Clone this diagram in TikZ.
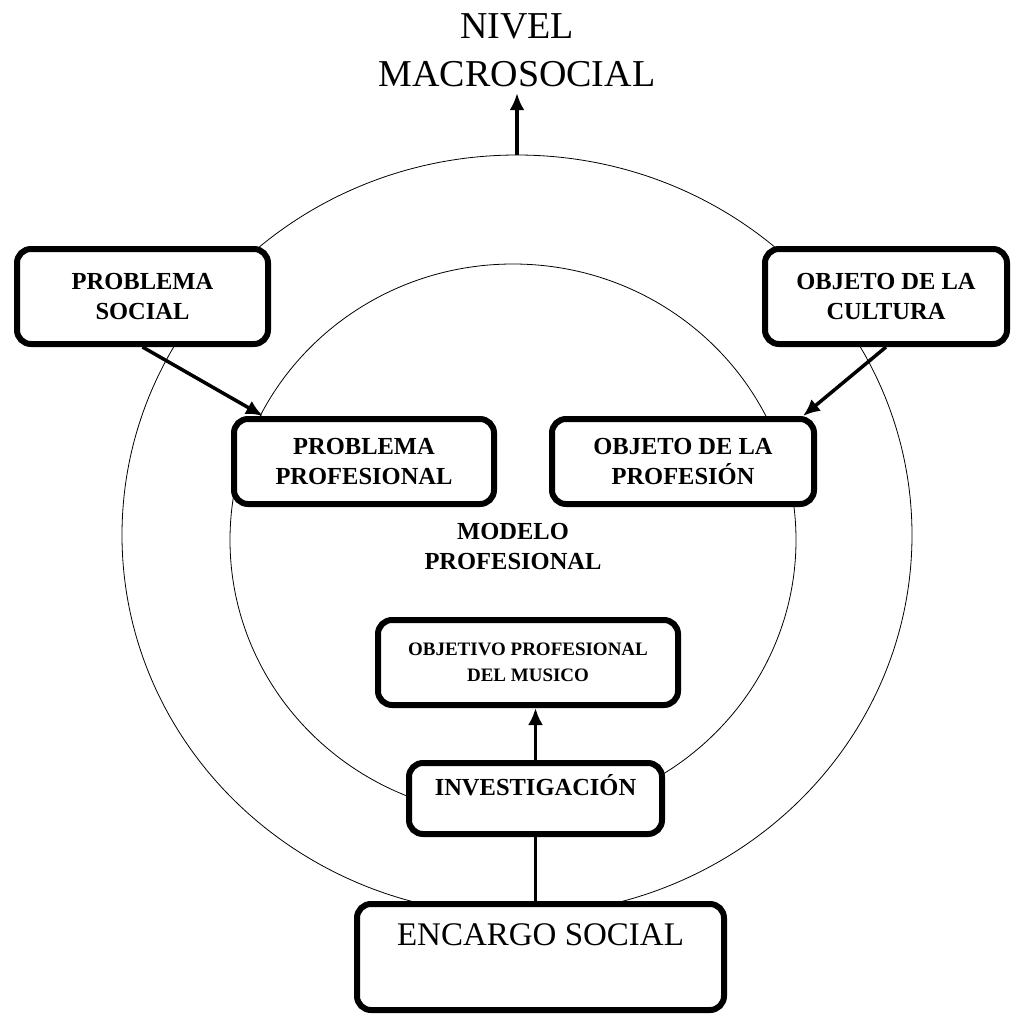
\documentclass[tikz,border=0pt]{standalone}
\usepackage{fontspec}
\setmainfont{Liberation Serif}
\usetikzlibrary{positioning}
\usetikzlibrary{shapes.geometric}
\usetikzlibrary{arrows.meta}

\begin{document}
\begin{tikzpicture}[x=1pt,y=-1pt,
ringnode/.style={ellipse, draw=black, line width=0.8pt, inner sep=0pt},
boxnode/.style={rectangle, rounded corners=14pt, draw=black, fill=white, line width=6pt, align=center, font=\fontsize{24.5}{30}\selectfont\bfseries},
arrowline/.style={line width=3.5pt, -{Latex[length=17pt,width=15pt]}},
]
\useasboundingbox (0,0) rectangle (1013,1015);

% the two rings
\node[ringnode, minimum width=790pt, minimum height=760pt] (outerring) at (517,535) {};
\node[ringnode, minimum width=566pt, minimum height=552pt] (innerring) at (513,540) {};

% texts without box
\node[align=center, font=\fontsize{38}{48}\selectfont] (macro) at (517,50) {NIVEL\\MACROSOCIAL};
\node[align=center, font=\fontsize{24.5}{30}\selectfont\bfseries] (modelo) at (513,547) {MODELO\\PROFESIONAL};

% boxes
\node[boxnode, minimum width=251pt, minimum height=95pt] (probsocial) at (142.5,296.5) {PROBLEMA\\SOCIAL};
\node[boxnode, minimum width=242pt, minimum height=95pt] (objcultura) at (886,296.5) {OBJETO DE LA\\CULTURA};
\node[boxnode, minimum width=260pt, minimum height=85pt] (probprof) at (364,461.5) {PROBLEMA\\PROFESIONAL};
\node[boxnode, minimum width=262pt, minimum height=85pt] (objprof) at (683,461.5) {OBJETO DE LA\\PROFESIÓN};
\node[boxnode, minimum width=300pt, minimum height=85pt, font=\fontsize{19}{26}\selectfont\bfseries] (objetivo) at (528,662.5) {OBJETIVO PROFESIONAL\\DEL MUSICO};
\node[boxnode, minimum width=253pt, minimum height=71pt, text height=16pt, text depth=22pt] (investig) at (535.5,798.5) {INVESTIGACIÓN};
\node[boxnode, minimum width=367pt, minimum height=106pt,
  label={[anchor=center, yshift=-34pt, font=\fontsize{33}{40}\selectfont]north:ENCARGO SOCIAL}] (encargo) at (540.5,957) {};

% connectors
\draw[arrowline, shorten >=3pt] (outerring.north) -- (macro.south);
\draw[arrowline] (probsocial.south) -- ([xshift=32pt]probprof.north west);
\draw[arrowline] (objcultura.south) -- ([xshift=-14pt]objprof.north east);
\draw[arrowline] (investig.north) -- (investig.north |- objetivo.south);
\draw[line width=3.5pt] (investig.south) -- (investig.south |- encargo.north);
\end{tikzpicture}
\end{document}
